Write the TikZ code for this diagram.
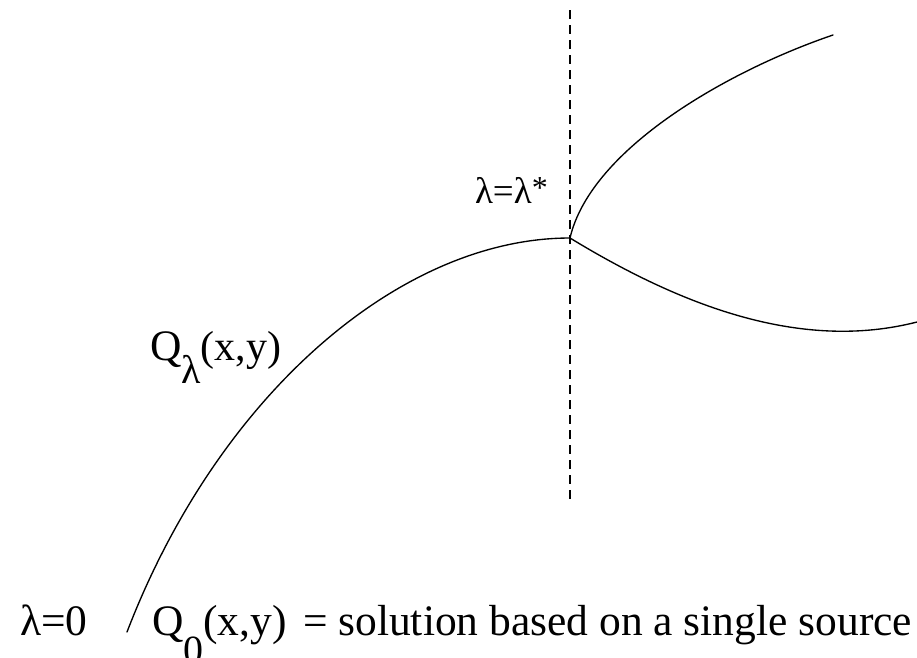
\documentclass[tikz,border=0pt]{standalone}
\usepackage{fontspec}
\setmainfont{Liberation Serif}
\begin{document}
\begin{tikzpicture}[x=1pt,y=-1pt,
  curve/.style={line width=1.35pt,line cap=round},
  vline/.style={line width=1.2pt,dash pattern=on 9pt off 6pt},
  lbl/.style={anchor=base west,inner sep=0pt,outer sep=0pt,font=\fontsize{43.5}{44}\selectfont},
  smlbl/.style={anchor=base west,inner sep=0pt,outer sep=0pt,font=\fontsize{37}{37}\selectfont}]
\useasboundingbox (0,0) rectangle (917,657);
\coordinate (top) at (570,10);
\coordinate (bottom) at (570,500);
\coordinate (start) at (127,632);
\coordinate (bif) at (570,238);
\coordinate (upend) at (833,35);
\coordinate (lowend) at (917,322);
\draw[vline] (top) -- (bottom);
\draw[curve] (start) .. controls (218,395) and (400,238) .. (bif);
\draw[curve] (bif) .. controls (591,148) and (730,70) .. (upend);
\draw[curve] (bif) .. controls (680,305) and (800,352) .. (lowend);
\node[smlbl] (lstar) at (475,203) {λ=λ\raisebox{5pt}{\fontsize{32}{32}\selectfont *}};
\node[lbl] (qlam) at (150,360) {Q\raisebox{-23pt}{\fontsize{40}{40}\selectfont λ}\fontsize{42}{42}\selectfont(x,y)};
\node[lbl] (lzero) at (20,635) {λ=0};
\node[lbl] (qzero) at (152,635) {Q\raisebox{-28pt}{\fontsize{40}{40}\selectfont 0}(x,y)};
\node[lbl] (desc) at (303,635) {= solution based on a single source};
\end{tikzpicture}
\end{document}
